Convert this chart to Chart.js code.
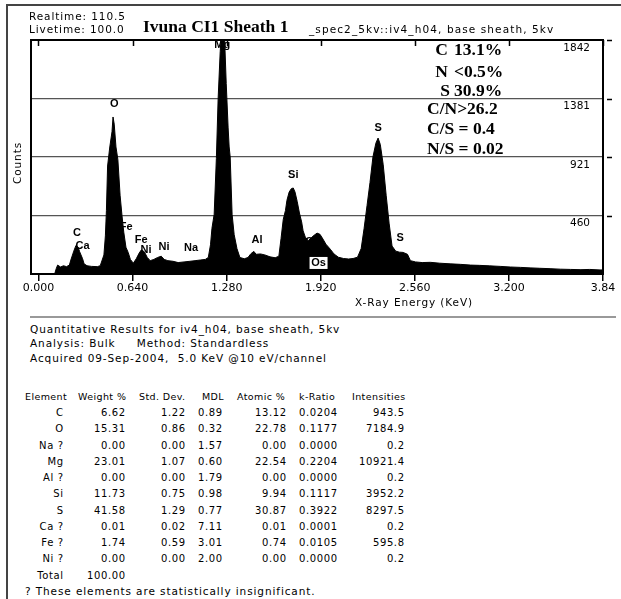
<!DOCTYPE html>
<html>
<head>
<meta charset="utf-8">
<script src="https://cdn.jsdelivr.net/npm/chart.js@4.4.1/dist/chart.umd.min.js"></script>
<style>
  html, body { margin:0; padding:0; background:#fff; }
  body { width:621px; height:599px; position:relative; overflow:hidden; }
  .g { position:absolute; font-family:"DejaVu Sans", sans-serif; font-size:10.5px; letter-spacing:0.9px; line-height:13px; color:#000; white-space:pre; }
  .h { position:absolute; font-family:"DejaVu Sans", sans-serif; font-size:9.5px; letter-spacing:0.4px; line-height:13px; color:#000; white-space:pre; }
  .t { position:absolute; font-family:"Liberation Serif", serif; font-weight:bold; font-size:17.5px; line-height:20px; color:#000; white-space:pre; }
  .col { position:absolute; font-family:"DejaVu Sans", sans-serif; font-size:10px; letter-spacing:0.6px; line-height:16.25px; color:#000; white-space:pre; }
  #frameL { position:absolute; left:6px; top:4px; width:2px; height:600px; background:#444; }
  #frameT { position:absolute; left:6px; top:4px; width:620px; height:2px; background:#444; }
  #sep { position:absolute; left:30px; top:316px; width:586px; height:2px; background:#999; }
  #chartBox { position:absolute; left:0; top:0; width:621px; height:320px; }
</style>
</head>
<body>
<div id="frameL"></div><div id="frameT"></div>
<div id="chartBox"><canvas id="c" width="621" height="320"></canvas></div>

<div class="g" style="left:29px;top:10px;">Realtime: 110.5</div>
<div class="g" style="left:29px;top:23px;">Livetime: 100.0</div>
<div class="t" style="left:143px;top:16px;">Ivuna CI1 Sheath 1</div>
<div class="g" style="left:309px;top:23px;letter-spacing:1.1px;">_spec2_5kv::iv4_h04, base sheath, 5kv</div>

<div class="t" style="right:173px;top:39px;">C</div><div class="t" style="left:454px;top:39px;">13.1%</div>
<div class="t" style="right:173px;top:61px;">N</div><div class="t" style="left:454px;top:61px;">&lt;0.5%</div>
<div class="t" style="right:171px;top:80px;">S</div><div class="t" style="left:454px;top:80px;">30.9%</div>
<div class="t" style="left:427px;top:98px;">C/N&gt;26.2</div>
<div class="t" style="left:427px;top:118px;">C/S = 0.4</div>
<div class="t" style="left:427px;top:138px;">N/S = 0.02</div>

<div class="g" style="left:-3px;top:158px;transform:rotate(-90deg);transform-origin:20px 6px;width:40px;">Counts</div>
<div class="g" style="left:355px;top:296px;">X-Ray Energy (KeV)</div>

<div id="sep"></div>
<div class="g" style="left:30px;top:323px;">Quantitative Results for iv4_h04, base sheath, 5kv</div>
<div class="g" style="left:30px;top:337px;">Analysis: Bulk     Method: Standardless</div>
<div class="g" style="left:30px;top:352px;">Acquired 09-Sep-2004,  5.0 KeV @10 eV/channel</div>

<div id="table"></div>

<script>
// ---------------- spectrum data ----------------
const energyKeV = [
  0.11, 0.12, 0.13, 0.15, 0.17, 0.19, 0.21, 0.22, 0.24, 0.255,
  0.27, 0.28, 0.30, 0.31, 0.33, 0.36, 0.40, 0.42, 0.445, 0.455,
  0.462, 0.47, 0.485, 0.50, 0.507, 0.515, 0.527, 0.54, 0.555, 0.568,
  0.58, 0.595, 0.61, 0.625, 0.645, 0.665, 0.685, 0.70, 0.72, 0.74,
  0.76, 0.785, 0.81, 0.835, 0.855, 0.88, 0.915, 0.95, 0.99, 1.03,
  1.065, 1.10, 1.135, 1.155, 1.17, 1.18, 1.195, 1.21, 1.222, 1.236,
  1.25, 1.263, 1.277, 1.29, 1.297, 1.304, 1.317, 1.331, 1.35, 1.37,
  1.40, 1.425, 1.445, 1.465, 1.48, 1.51, 1.54, 1.575, 1.61, 1.635,
  1.65, 1.665, 1.68, 1.69, 1.705, 1.72, 1.733, 1.745, 1.76, 1.775,
  1.79, 1.80, 1.815, 1.835, 1.855, 1.875, 1.895, 1.915, 1.935, 1.955,
  1.985, 2.01, 2.04, 2.075, 2.11, 2.14, 2.17, 2.195, 2.215, 2.235,
  2.255, 2.275, 2.295, 2.31, 2.325, 2.345, 2.365, 2.385, 2.405, 2.43,
  2.455, 2.48, 2.51, 2.53, 2.565, 2.61, 2.665, 2.73, 2.80, 2.87,
  2.94, 3.00, 3.07, 3.14, 3.21, 3.28, 3.35, 3.41, 3.48, 3.55,
  3.62, 3.69, 3.75, 3.82, 3.84
];
const spectrumCounts = [
  0, 40, 70, 55, 65, 58, 70, 110, 180, 225,
  210, 175, 120, 80, 65, 60, 58, 65, 150, 300,
  500, 850, 1000, 1120, 1236, 1180, 1000, 900, 620, 460,
  330, 210, 170, 115, 85, 120, 165, 190, 175, 130,
  105, 115, 130, 140, 115, 105, 100, 90, 95, 100,
  105, 110, 115, 130, 230, 360, 470, 910, 1381, 1750,
  2000, 1950, 1500, 1150, 1000, 921, 470, 310, 200, 130,
  120, 130, 160, 178, 155, 158, 150, 135, 128, 140,
  280, 430, 500, 580, 645, 672, 677, 645, 570, 480,
  410, 340, 290, 262, 285, 305, 322, 312, 275, 235,
  195, 158, 132, 122, 118, 122, 132, 200, 360, 540,
  720, 921, 1030, 1070, 1020, 860, 620, 400, 220, 180,
  172, 170, 155, 105, 95, 90, 92, 85, 80, 76,
  70, 68, 64, 60, 55, 52, 48, 45, 42, 38,
  36, 34, 36, 32, 32
];
const xTickValues = [0, 0.64, 1.28, 1.92, 2.56, 3.2, 3.84];
const xTickLabels = ['0.000', '0.640', '1.280', '1.920', '2.560', '3.200', '3.84'];
const yTickValues = [0, 460, 921, 1381, 1842];
const yTickLabels = ['', '460', '921', '1381', '1842'];

// element marker labels (anchored in keV / counts)
const peakNames  = ['Mg', 'O', 'Si', 'S', 'C', 'Ca', 'Fe', 'Fe', 'Ni', 'Ni', 'Na', 'Al', 'Os', 'Os', 'S'];
const peakKeV    = [1.25, 0.515, 1.733, 2.311, 0.262, 0.30, 0.596, 0.698, 0.732, 0.854, 1.038, 1.487, 1.862, 1.905, 2.46];
const peakLabelCounts = [1800, 1338, 779, 1149, 323, 222, 370, 268, 189, 212, 205, 268, 252, 87, 283];

// ---------------- table data ----------------
const tableHeaders = ['Element', 'Weight %', 'Std. Dev.', 'MDL', 'Atomic %', 'k-Ratio', 'Intensities'];
const elements   = ['C', 'O', 'Na ?', 'Mg', 'Al ?', 'Si', 'S', 'Ca ?', 'Fe ?', 'Ni ?', 'Total'];
const weightPct  = ['6.62', '15.31', '0.00', '23.01', '0.00', '11.73', '41.58', '0.01', '1.74', '0.00', '100.00'];
const stdDev     = ['1.22', '0.86', '0.00', '1.07', '0.00', '0.75', '1.29', '0.02', '0.59', '0.00'];
const mdl        = ['0.89', '0.32', '1.57', '0.60', '1.79', '0.98', '0.77', '7.11', '3.01', '2.00'];
const atomicPct  = ['13.12', '22.78', '0.00', '22.54', '0.00', '9.94', '30.87', '0.01', '0.74', '0.00'];
const kRatio     = ['0.0204', '0.1177', '0.0000', '0.2204', '0.0000', '0.1117', '0.3922', '0.0001', '0.0105', '0.0000'];
const intensities= ['943.5', '7184.9', '0.2', '10921.4', '0.2', '3952.2', '8297.5', '0.2', '595.8', '0.2'];
const footnote = '? These elements are statistically insignificant.';

// ---------------- build table ----------------
(function buildTable(){
  const t = document.getElementById('table');
  const headerLeft = [25, 78, 139, 202, 237, 299, 352];
  const headerTop = 390;
  tableHeaders.forEach((h, i) => {
    const d = document.createElement('div');
    d.className = 'h'; d.textContent = h;
    d.style.left = headerLeft[i] + 'px'; d.style.top = headerTop + 'px';
    t.appendChild(d);
  });
  const cols = [
    {vals: elements, right: 63},
    {vals: weightPct, right: 125},
    {vals: stdDev, right: 185},
    {vals: mdl, right: 222},
    {vals: atomicPct, right: 286},
    {vals: kRatio, left: 299},
    {vals: intensities, right: 404}
  ];
  cols.forEach(c => {
    const d = document.createElement('div');
    d.className = 'col'; d.textContent = c.vals.join('\n');
    d.style.top = '405px';
    if (c.right !== undefined) { d.style.right = (621 - c.right - 0.6) + 'px'; d.style.textAlign = 'right'; }
    else { d.style.left = c.left + 'px'; }
    t.appendChild(d);
  });
  const f = document.createElement('div');
  f.className = 'g'; f.textContent = footnote;
  f.style.left = '25px'; f.style.top = '584.5px';
  t.appendChild(f);
})();

// ---------------- chart ----------------
const decor = {
  id: 'decor',
  afterDatasetsDraw(chart) {
    const {ctx, scales: {x, y}} = chart;
    ctx.save();
    ctx.fillStyle = '#000';
    ctx.textAlign = 'center';
    ctx.textBaseline = 'middle';
    ctx.font = 'bold 11px "Liberation Sans", sans-serif';
    peakNames.forEach((name, i) => {
      const px = x.getPixelForValue(peakKeV[i]);
      const py = y.getPixelForValue(peakLabelCounts[i]);
      if (i === 13) {
        ctx.fillStyle = '#fff';
        ctx.fillRect(px - 9, py - 6, 18, 12);
        ctx.fillStyle = '#000';
      }
      ctx.fillText(name, px, py);
    });
    ctx.restore();
  },
  afterDraw(chart) {
    const {ctx, chartArea: a, scales: {x, y}} = chart;
    ctx.save();
    ctx.strokeStyle = '#000';
    ctx.lineWidth = 2;
    ctx.strokeRect(a.left, a.top, a.right - a.left, a.bottom - a.top);
    ctx.lineWidth = 1.5;
    ctx.beginPath();
    xTickValues.forEach(v => {
      const px = Math.round(x.getPixelForValue(v)) + 0.5;
      ctx.moveTo(px, a.top); ctx.lineTo(px, a.top + 6);
    });
    yTickValues.slice(1).forEach(v => {
      const py = Math.round(y.getPixelForValue(v)) + 0.5;
      ctx.moveTo(a.right + 4, py); ctx.lineTo(a.right + 9, py);
    });
    ctx.stroke();
    ctx.restore();
  }
};

Chart.defaults.font.family = '"DejaVu Sans", sans-serif';
Chart.defaults.color = '#000';

new Chart(document.getElementById('c'), {
  type: 'line',
  data: {
    datasets: [{
      data: energyKeV.map((e, i) => ({x: e, y: spectrumCounts[i]})),
      borderColor: '#000',
      backgroundColor: '#000',
      borderWidth: 1,
      fill: 'origin',
      pointRadius: 0,
      tension: 0
    }]
  },
  options: {
    responsive: false,
    animation: false,
    layout: { padding: { left: 31, top: 40, right: 0, bottom: 0 } },
    plugins: { legend: { display: false }, tooltip: { enabled: false } },
    scales: {
      x: {
        type: 'linear', min: -0.051, max: 3.84,
        afterBuildTicks: s => { s.ticks = xTickValues.map(v => ({value: v})); },
        afterFit: s => { s.height = 46; },
        ticks: {
          callback: (v, i) => xTickLabels[i],
          font: { size: 11 }, color: '#000', maxRotation: 0, autoSkip: false, padding: 1
        },
        grid: { drawOnChartArea: false, drawTicks: true, tickLength: 7, color: '#000', lineWidth: 1.5 },
        border: { display: true, color: '#000', width: 2 }
      },
      y: {
        type: 'linear', position: 'right', min: 0, max: 1842,
        afterBuildTicks: s => { s.ticks = yTickValues.map(v => ({value: v})); },
        afterFit: s => { s.width = 18; },
        ticks: {
          mirror: true, padding: -13, labelOffset: 8,
          callback: (v, i) => yTickLabels[i],
          font: { size: 10.5 }, color: '#000'
        },
        grid: { drawTicks: false, color: '#555', lineWidth: 1.2 },
        border: { display: true, color: '#000', width: 2 }
      }
    }
  },
  plugins: [decor]
});
</script>
</body>
</html>
